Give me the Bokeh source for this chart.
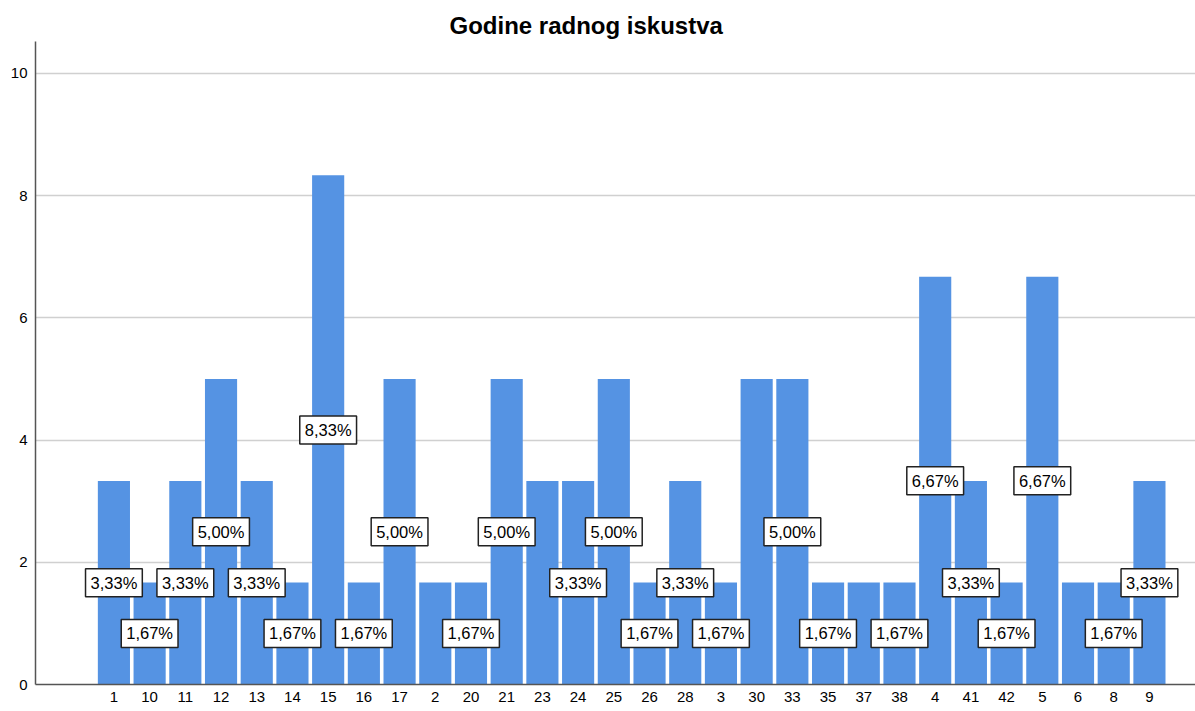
from bokeh.plotting import figure
from bokeh.models import ColumnDataSource, Range1d, FixedTicker, Title
from bokeh.core.properties import value
from bokeh.embed import file_html
from bokeh.resources import INLINE

categories = ["1", "10", "11", "12", "13", "14", "15", "16", "17", "2", "20", "21", "23", "24", "25",
              "26", "28", "3", "30", "33", "35", "37", "38", "4", "41", "42", "5", "6", "8", "9"]
percent = [3.33, 1.67, 3.33, 5.00, 3.33, 1.67, 8.33, 1.67, 5.00, 1.67, 1.67, 5.00, 3.33, 3.33, 5.00,
           1.67, 3.33, 1.67, 5.00, 5.00, 1.67, 1.67, 1.67, 6.67, 3.33, 1.67, 6.67, 1.67, 1.67, 3.33]
label_shown = [1, 1, 1, 1, 1, 1, 1, 1, 1, 0, 1, 1, 0, 1, 1,
               1, 1, 1, 0, 1, 1, 0, 1, 1, 1, 1, 1, 0, 1, 1]
y_ticks = [0, 2, 4, 6, 8, 10]

x = list(range(len(categories)))
bar_src = ColumnDataSource(dict(x=x, top=percent))

lx, ly, lt = [], [], []
for i, (v, s) in enumerate(zip(percent, label_shown)):
    if s:
        lx.append(i)
        ly.append(v / 2)
        lt.append(f"{v:.2f}".replace(".", ",") + "%")
lab_src = ColumnDataSource(dict(x=lx, y=ly, t=lt))

p = figure(width=1195, height=711, output_backend="svg", toolbar_location=None,
           x_range=Range1d(-2.196, 30.29), y_range=Range1d(0, 10.52),
           min_border_left=35, min_border_right=0, min_border_top=41, min_border_bottom=27)
p.title = Title(text="Godine radnog iskustva", align="left", offset=414, standoff=6,
                text_font="Liberation Sans", text_font_size="24px", text_font_style="bold",
                text_color="#000000")
p.outline_line_color = None

p.vbar(x="x", top="top", width=0.9, bottom=0, source=bar_src,
       fill_color="#5593e3", line_color=None)

p.text(x="x", y="y", text="t", source=lab_src, text_align="center", text_baseline="middle",
       text_font=value("Liberation Sans"), text_font_size="16.5px", text_color="#000000",
       background_fill_color="white", border_line_color="#222222", border_line_width=1.5,
       padding=5)

p.xaxis.ticker = FixedTicker(ticks=x)
p.xaxis.major_label_overrides = {i: c for i, c in enumerate(categories)}
p.yaxis.ticker = FixedTicker(ticks=y_ticks)
for ax in (p.xaxis, p.yaxis):
    ax.major_tick_line_color = None
    ax.minor_tick_line_color = None
    ax.major_tick_out = 0
    ax.major_tick_in = 0
    ax.minor_tick_out = 0
    ax.minor_tick_in = 0
    ax.axis_line_color = "#555555"
    ax.axis_line_width = 1.5
    ax.major_label_text_font = "Liberation Sans"
    ax.major_label_text_font_size = "15px"
    ax.major_label_text_color = "#000000"
p.yaxis.major_label_standoff = 8
p.xaxis.major_label_standoff = 7

p.xgrid.grid_line_color = None
p.ygrid.grid_line_color = "#d0d0d0"
p.ygrid.grid_line_width = 1.5

open("out.html", "w").write(file_html(p, INLINE))
